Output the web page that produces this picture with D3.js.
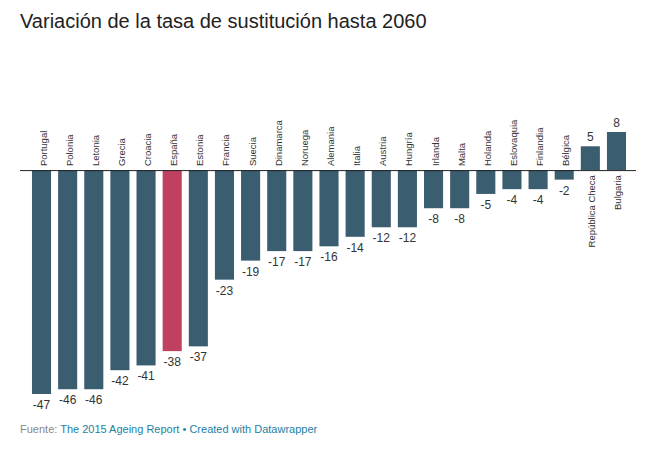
<!DOCTYPE html>
<html>
<head>
<meta charset="utf-8">
<script src="https://cdn.jsdelivr.net/npm/d3@7"></script>
<style>
  body { margin: 0; background: #fff; font-family: "Liberation Sans", Arial, sans-serif; }
</style>
</head>
<body>
<svg class="chart" width="655" height="451"></svg>
<script>
const countries = ['Portugal', 'Polonia', 'Letonia', 'Grecia', 'Croacia', 'España', 'Estonia', 'Francia',
  'Suecia', 'Dinamarca', 'Noruega', 'Alemania', 'Italia', 'Austria', 'Hungría', 'Irlanda', 'Malta',
  'Holanda', 'Eslovaquia', 'Finlandia', 'Bélgica', 'República Checa', 'Bulgaria'];
const values = [-47, -46, -46, -42, -41, -38, -37, -23, -19, -17, -17, -16, -14, -12, -12, -8, -8,
  -5, -4, -4, -2, 5, 8];
const highlight = 'España';

const data = countries.map((c, i) => ({ name: c, value: values[i] }));

const svg = d3.select('.chart');

svg.append('text')
  .attr('x', 20).attr('y', 28)
  .attr('font-size', 20).attr('fill', '#222')
  .text('Variación de la tasa de sustitución hasta 2060');

const xScale = d3.scaleBand().domain(countries).range([21, 637]).paddingInner(0.27).paddingOuter(0.42);
const yScale = d3.scaleLinear().domain([-47, 8]).range([394, 132]);

const bars = svg.append('g');
bars.selectAll('rect').data(data).enter().append('rect')
  .attr('x', d => xScale(d.name))
  .attr('width', xScale.bandwidth())
  .attr('y', d => yScale(Math.max(0, d.value)))
  .attr('height', d => Math.abs(yScale(d.value) - yScale(0)))
  .attr('fill', d => d.name === highlight ? '#c0415f' : '#3a5d70');

svg.append('line')
  .attr('x1', 20).attr('x2', 636)
  .attr('y1', yScale(0) + 0.5).attr('y2', yScale(0) + 0.5)
  .attr('stroke', '#222').attr('stroke-width', 1);

// country names, rotated
svg.append('g').selectAll('text').data(data).enter().append('text')
  .attr('transform', d => {
    const cx = xScale(d.name) + xScale.bandwidth() / 2 + 5;
    const yy = d.value < 0 ? yScale(0) - 4 : yScale(0) + 5;
    return `translate(${cx},${yy}) rotate(-90)`;
  })
  .attr('text-anchor', d => d.value < 0 ? 'start' : 'end')
  .attr('font-size', 9.5).attr('fill', '#333')
  .text(d => d.name);

// value labels
svg.append('g').selectAll('text').data(data).enter().append('text')
  .attr('x', d => xScale(d.name) + xScale.bandwidth() / 2)
  .attr('y', d => d.value < 0 ? yScale(d.value) + 15 : yScale(d.value) - 5)
  .attr('text-anchor', 'middle')
  .attr('font-size', 12).attr('fill', '#333')
  .text(d => d.value);

const foot = svg.append('text').attr('x', 20).attr('y', 433).attr('font-size', 11);
foot.append('tspan').attr('fill', '#888').text('Fuente: ');
foot.append('tspan').attr('fill', '#1d81a2').text('The 2015 Ageing Report');
foot.append('tspan').attr('fill', '#1d81a2').text(' • Created with Datawrapper');
</script>
</body>
</html>
